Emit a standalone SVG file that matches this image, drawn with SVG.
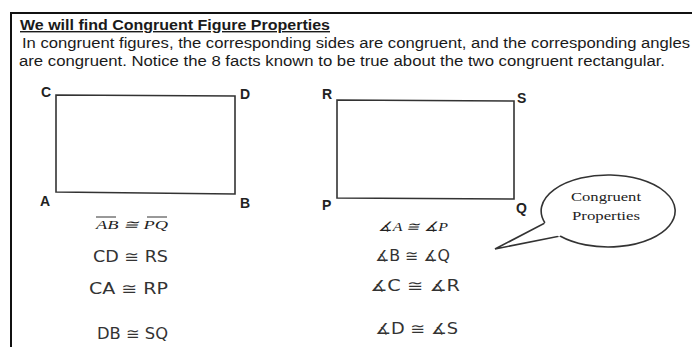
<svg xmlns="http://www.w3.org/2000/svg" width="692" height="347" viewBox="0 0 692 347">
<style>
.t{font-family:"Liberation Sans",Arial,sans-serif;fill:#1a1a1a}
.lbl{font-family:"Liberation Sans",Arial,sans-serif;font-weight:bold;font-size:14px;fill:#222}
.hw{font-family:"DejaVu Sans",sans-serif;font-size:15px;fill:#333}
.shape{fill:none;stroke:#333;stroke-width:1.6}
.serif{font-family:"Liberation Serif","Times New Roman",serif;font-size:13px;fill:#222}
</style>
<rect width="692" height="347" fill="#fff"/>
<path d="M11,347 V13 H692" fill="none" stroke="#111" stroke-width="2"/>
<text class="t" x="20" y="30" font-size="14" font-weight="bold" text-decoration="underline" textLength="310" lengthAdjust="spacingAndGlyphs">We will find Congruent Figure Properties</text>
<text class="t" x="22" y="48" font-size="14" textLength="668" lengthAdjust="spacingAndGlyphs">In congruent figures, the corresponding sides are congruent, and the corresponding angles</text>
<text class="t" x="19" y="66" font-size="14" textLength="646" lengthAdjust="spacingAndGlyphs">are congruent. Notice the 8 facts known to be true about the two congruent rectangular.</text>
<g id="rectABCD">
<polygon class="shape" points="56,95 235,96 235,194 56,192"/>
<text class="lbl" x="41" y="97">C</text>
<text class="lbl" x="240" y="99">D</text>
<text class="lbl" x="40" y="206">A</text>
<text class="lbl" x="240" y="208">B</text>
</g>
<g id="rectPQRS">
<polygon class="shape" points="337,100 514,101 514,199 337,198"/>
<text class="lbl" x="322" y="99">R</text>
<text class="lbl" x="517" y="103">S</text>
<text class="lbl" x="322" y="210">P</text>
<text class="lbl" x="516" y="213">Q</text>
</g>
<g id="callout">
<path class="shape" stroke-width="1.3" fill="#fff" d="M545,223 A67,36 0 1 1 560,236 L495,249 Z"/>
<path d="M545,223 L560,236" stroke="#fff" stroke-width="2.5"/>
<text class="serif" x="606" y="201" text-anchor="middle" font-size="15" textLength="70" lengthAdjust="spacingAndGlyphs">Congruent</text>
<text class="serif" x="606" y="220" text-anchor="middle" font-size="15" textLength="68" lengthAdjust="spacingAndGlyphs">Properties</text>
</g>
<g id="sides">
<text class="serif" x="96" y="229" font-style="italic" font-size="14" textLength="72" lengthAdjust="spacingAndGlyphs">AB ≅ PQ</text>
<line x1="96" y1="217" x2="116" y2="217" stroke="#333" stroke-width="1"/>
<line x1="147" y1="217" x2="167" y2="217" stroke="#333" stroke-width="1"/>
<text class="hw" x="93" y="262" textLength="75" lengthAdjust="spacingAndGlyphs">CD ≅ RS</text>
<text class="hw" x="89" y="294" font-size="17" textLength="79" lengthAdjust="spacingAndGlyphs">CA ≅ RP</text>
<text class="hw" x="97" y="339" textLength="71" lengthAdjust="spacingAndGlyphs">DB ≅ SQ</text>
</g>
<g id="angles">
<text class="serif" x="378" y="231" font-style="italic" font-size="14" textLength="70" lengthAdjust="spacingAndGlyphs">∡A ≅ ∡P</text>
<text class="hw" x="375" y="261" textLength="75" lengthAdjust="spacingAndGlyphs">∡B ≅ ∡Q</text>
<text class="hw" x="370" y="291" textLength="90" lengthAdjust="spacingAndGlyphs">∡C ≅ ∡R</text>
<text class="hw" x="375" y="334" font-size="17" textLength="83" lengthAdjust="spacingAndGlyphs">∡D ≅ ∡S</text>
</g>
</svg>
